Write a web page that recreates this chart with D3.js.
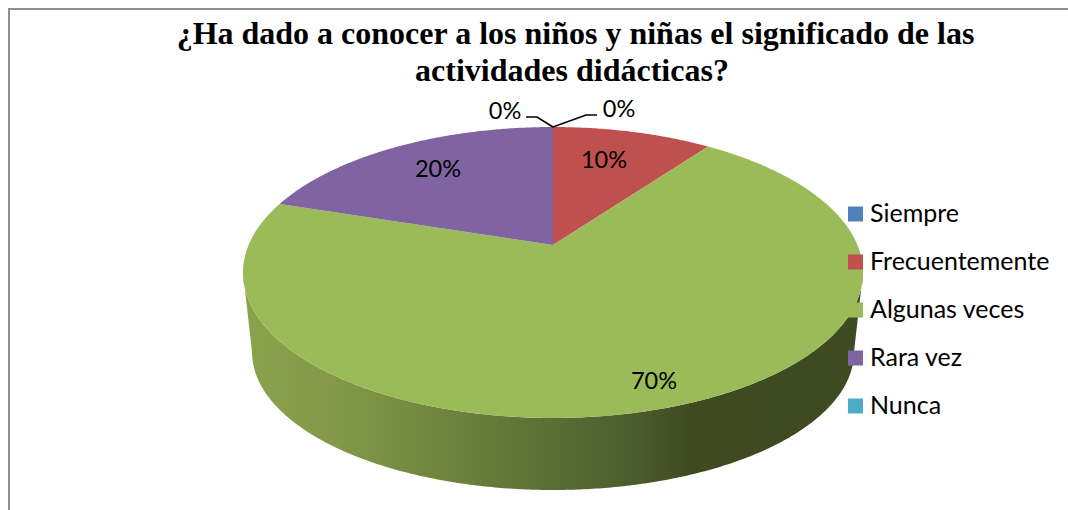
<!DOCTYPE html>
<html><head><meta charset="utf-8">
<script src="https://cdn.jsdelivr.net/npm/d3@7/dist/d3.min.js"></script>
<style>html,body{margin:0;padding:0;background:#fff;overflow:hidden}svg{display:block}</style>
</head><body><svg id="c" width="1068" height="510"></svg>
<script>
const categories = ["Siempre","Frecuentemente","Algunas veces","Rara vez","Nunca"];
const values = [0,10,70,20,0];
const colors = ["#4f81bd","#c0504d","#9bbb59","#8064a2","#4bacc6"];
const titleLines = ["¿Ha dado a conocer a los niños y niñas el significado de las","actividades didácticas?"];
const sideStops = [[243,"#8ba34c"],[330,"#84994a"],[410,"#748b40"],[553,"#5a6e35"],[640,"#4a5b2c"],[690,"#3f4a21"],[863,"#3e4a21"]];

const svg = d3.select("#c");
// frame
svg.append("path").attr("d","M1068,9H9V510").attr("fill","none").attr("stroke","#8f8f8f").attr("stroke-width",2);

// title
svg.append("g").selectAll("text").data(titleLines).join("text")
  .attr("x",(d,i)=>i?572:575.5).attr("y",(d,i)=>44+i*37).attr("text-anchor","middle")
  .attr("font-family","'Liberation Serif'").attr("font-weight","bold").attr("font-size",32)
  .attr("fill","#000").text(d=>d);

// perspective disc projection
const cx=553, apexY=245, p=-0.189, kY=140.3, kX=304.4;
const project=(a)=>{const u=Math.sin(a),v=-Math.cos(a),d=1+p*v;return [cx+kX*u/d, apexY+kY*v/d];};
// bottom rim: same disc scaled and moved down
const rimScale=301/310, rimY=79.5;
const projectRim=(a)=>{const q=project(a);return [cx+(q[0]-cx)*rimScale, 272.5+rimY+(q[1]-272.5)*(138/145.5)];};
const pathLine=d3.line();
const TAU=2*Math.PI, step=TAU/720;
const sample=(f,a0,a1)=>{const n=Math.max(1,Math.ceil(Math.abs(a1-a0)/step));return d3.range(n+1).map(i=>f(a0+(a1-a0)*i/n));};

const arcs=d3.pie().sort(null).value(d=>d)(values);

// side wall: visible part of each slice
const visA=100.9*Math.PI/180, visB=TAU-visA;
const defs=svg.append("defs");
const grad=defs.append("linearGradient").attr("id","side").attr("gradientUnits","userSpaceOnUse")
  .attr("x1",243).attr("x2",863).attr("y1",0).attr("y2",0);
sideStops.forEach(s=>grad.append("stop").attr("offset",(s[0]-243)/620).attr("stop-color",s[1]));
svg.append("g").selectAll("path").data(arcs.filter(a=>a.endAngle>visA&&a.startAngle<visB&&a.value>0)).join("path")
  .attr("fill","url(#side)")
  .attr("d",a=>{
    const s=Math.max(a.startAngle,visA),e=Math.min(a.endAngle,visB);
    return pathLine(sample(project,s,e).concat(sample(projectRim,e,s)))+"Z";
  });

// top slices
svg.append("g").selectAll("path").data(arcs.filter(a=>a.value>0)).join("path")
  .attr("fill",a=>colors[a.index])
  .attr("d",a=>pathLine([[cx,apexY]].concat(sample(project,a.startAngle,a.endAngle)))+"Z");

// leader lines for the zero slices
const rimTop=project(0);
const leaders=[[[526,117],[537,117],rimTop],[[597,115],[586,115],rimTop]];
svg.append("g").selectAll("path").data(leaders).join("path")
  .attr("d",d=>pathLine(d)).attr("fill","none").attr("stroke","#000").attr("stroke-width",1.6);

// data labels
const labelFont="Lato, Carlito, sans-serif";
const labelPos=[[505,119],[604,168],[654,389],[438,177],[619,117]];
// order: Siempre, Frecuentemente, Algunas veces, Rara vez, Nunca
svg.append("g").selectAll("text").data(values).join("text")
  .attr("x",(d,i)=>labelPos[i][0]).attr("y",(d,i)=>labelPos[i][1])
  .attr("text-anchor","middle").attr("font-family",labelFont).attr("font-size",23.5).attr("fill","#000")
  .text(d=>d+"%");

// legend
const ly=d3.scalePoint().domain(categories).range([214,406]);
const lg=svg.append("g").selectAll("g").data(categories).join("g").attr("transform",d=>`translate(848,${ly(d)})`);
lg.append("rect").attr("x",0).attr("y",-7.5).attr("width",15).attr("height",15).attr("fill",(d,i)=>colors[i]);
lg.append("text").attr("x",22).attr("y",8).attr("font-family",labelFont).attr("font-size",25).attr("fill","#000").text(d=>d);
</script></body></html>
